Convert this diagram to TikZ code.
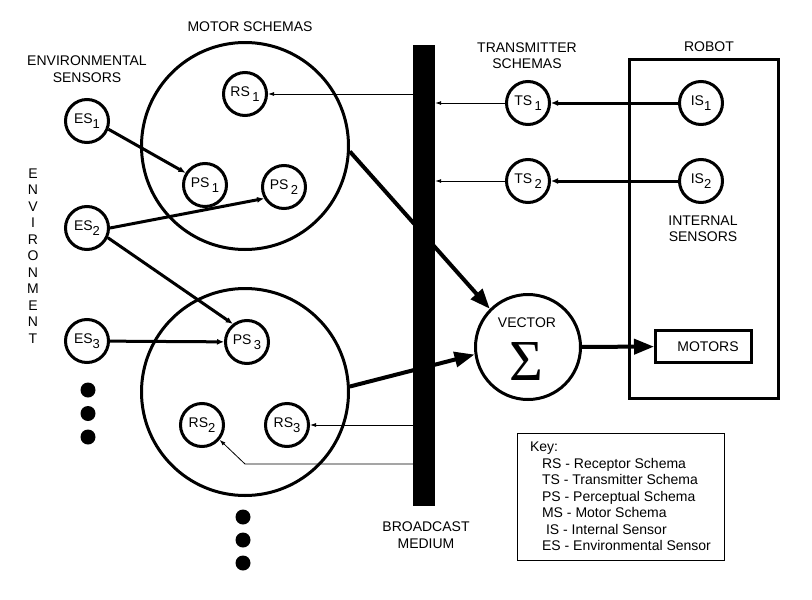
\documentclass[tikz,border=0pt]{standalone}
\usepackage{fontspec}
\setmainfont{Liberation Sans}
\newfontfamily\sigmafont{Liberation Serif}
\usepackage{tikz}
\usetikzlibrary{arrows.meta}
\newcommand{\idx}[1]{\raisebox{-5pt}{\fontsize{13}{13}\selectfont #1}}

\begin{document}
\begin{tikzpicture}[x=1pt, y=-1pt,
        every node/.style={font=\fontsize{14}{16.5}\selectfont},
        schema/.style={draw, circle, line width=3pt, minimum size=43pt, inner sep=0pt},
        mschema/.style={draw, circle, line width=3pt, minimum size=207pt, inner sep=0pt},
        feed/.style={line width=3pt, -{Latex[length=7pt, width=6pt]}},
        signal/.style={line width=0.8pt, -{Latex[length=6pt, width=4pt]}},
        vote/.style={line width=4pt, -{Triangle[length=20pt, width=15pt]}}]

        \useasboundingbox (0,0) rectangle (812,600);

        \node (mstitle) at (250,27) {MOTOR SCHEMAS};
        \node[align=center] (estitle) at (87,69) {ENVIRONMENTAL\\SENSORS};
        \node[align=center] (env) at (33,256) {E\\N\\V\\I\\R\\O\\N\\M\\E\\N\\T};
        \node[align=center] (tstitle) at (527,55.5) {TRANSMITTER\\SCHEMAS};
        \node (robtitle) at (709,47) {ROBOT};
        \node[align=center] (istitle) at (703,228.5) {INTERNAL\\SENSORS};
        \node[align=center] (bmtitle) at (426,535) {BROADCAST\\MEDIUM};

        \node[mschema] (ms1) at (245,146) {};
        \node[mschema] (ms2) at (245,392) {};

        \node[schema] (rs1) at (245,94) {RS\,\idx{1}};
        \node[schema] (ps1) at (205,185) {PS\,\idx{1}};
        \node[schema] (ps2) at (284,187) {PS\,\idx{2}};
        \node[schema] (ps3) at (247,342) {PS\,\idx{3}};
        \node[schema] (rs2) at (202,425) {RS\idx{2}};
        \node[schema] (rs3) at (287,425) {RS\idx{3}};

        \node[schema] (es1) at (87,121) {ES\idx{1}};
        \node[schema] (es2) at (87,228) {ES\idx{2}};
        \node[schema] (es3) at (87,341) {ES\idx{3}};

        \foreach \y in {390,413.5,437} \fill (88,\y) circle (7.5);
        \foreach \y in {517,540,563} \fill (243,\y) circle (7.5);

        \node[fill, minimum width=22pt, minimum height=461pt, inner sep=0pt] (bar) at (424,275.5) {};

        \node[schema] (ts1) at (528,103) {TS\,\idx{1}};
        \node[schema] (ts2) at (528,181) {TS\,\idx{2}};

        \draw[line width=3pt] (629.5,59.5) rectangle (778.5,398.5);
        \node[schema] (is1) at (701,103) {IS\idx{1}};
        \node[schema] (is2) at (701,181) {IS\idx{2}};
        \node[draw, line width=3pt, minimum width=96pt, minimum height=32pt, inner sep=0pt] (motors) at (703.5,346.5) {\hspace*{9pt}MOTORS};

        \node[schema, minimum size=105pt] (sum) at (528,347) {};
        \node (vec) at (527,323) {VECTOR};
        \node (sig) at (526,362) {\sigmafont\fontsize{58}{58}\selectfont Σ};

        \node[draw, line width=0.8pt, inner xsep=2pt, minimum width=207pt, minimum height=127pt, align=left] (key) at (620.5,496.5)
            {Key:\\
             \hspace*{12pt}RS - Receptor Schema\\
             \hspace*{12pt}TS - Transmitter Schema\\
             \hspace*{12pt}PS - Perceptual Schema\\
             \hspace*{12pt}MS - Motor Schema\\
             \hspace*{16pt}IS - Internal Sensor\\
             \hspace*{12pt}ES - Environmental Sensor};

        % sensors to perceptual schemas
        \draw[feed] (es1.-21) -- (ps1.148);
        \draw[feed] (es2.east) -- (ps2.210);
        \draw[feed] (es2.-25) -- (ps3.128);
        \draw[feed] (es3) -- (ps3);
        \draw[feed] (is1) -- (ts1);
        \draw[feed] (is2) -- (ts2);

        % broadcast medium
        \draw[signal] (ts1) -- (ts1 -| bar.east);
        \draw[signal] (ts2) -- (ts2 -| bar.east);
        \draw[signal] (bar.west |- rs1) -- (rs1);
        \draw[signal] (bar.west |- rs3) -- (rs3);
        \coordinate (bend) at (245,464);
        \draw[signal] (bar.west |- bend) -- (bend) -- (rs2.-40);

        \draw[vote] (ms1.-3) -- (sum.135);
        \draw[vote] (ms2.3) -- (sum.188);
        \draw[vote] (sum) -- (motors);
    \end{tikzpicture}
\end{document}
